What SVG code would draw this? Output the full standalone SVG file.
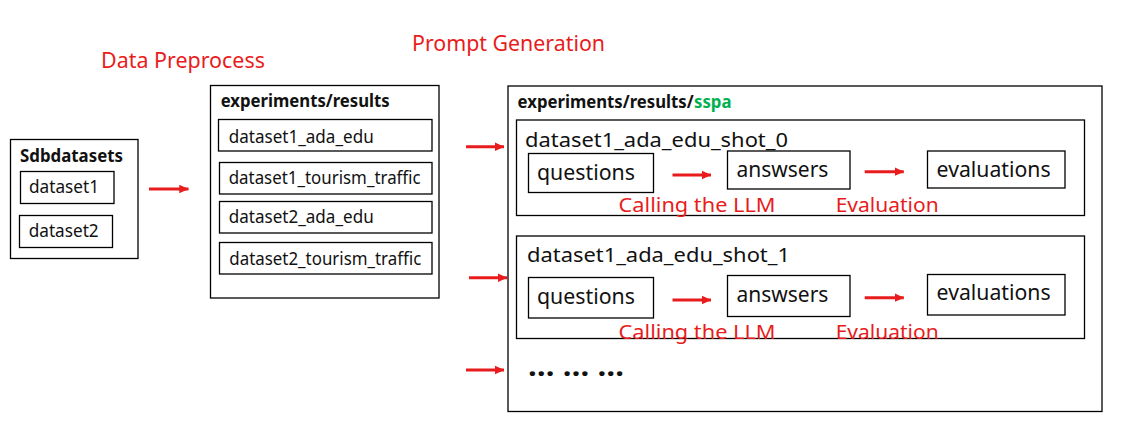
<svg xmlns="http://www.w3.org/2000/svg" width="1132" height="439" viewBox="0 0 1132 439">
<defs>
<marker id="ah" markerWidth="4" markerHeight="4" refX="3.2" refY="2" orient="auto" markerUnits="strokeWidth">
<path d="M0,0.5 L3.3,2 L0,3.5 Z" fill="#E81C1C"/>
</marker>
<style>
.box{fill:#fff;stroke:#000;stroke-width:1.3}
.t{font-family:"Noto Sans","Open Sans","Liberation Sans",sans-serif;fill:#111}
.b{font-weight:bold}
.red{fill:#E81C1C}
.arr{stroke:#E81C1C;stroke-width:2.9;fill:none;marker-end:url(#ah)}
</style>
</defs>
<rect width="1132" height="439" fill="#fff"/>

<text class="t red" x="101" y="68" font-size="21" textLength="164" lengthAdjust="spacingAndGlyphs">Data Preprocess</text>
<text class="t red" x="412" y="51" font-size="21" textLength="193" lengthAdjust="spacingAndGlyphs">Prompt Generation</text>

<g id="sdbdatasets">
<rect class="box" x="10.5" y="139.5" width="127.5" height="119"/>
<text class="t b" x="20" y="162" font-size="17" textLength="103" lengthAdjust="spacingAndGlyphs">Sdbdatasets</text>
<g id="dataset1">
<rect class="box" x="20.5" y="171.5" width="93.5" height="32"/>
<text class="t" x="29" y="193.3" font-size="18" textLength="70" lengthAdjust="spacingAndGlyphs">dataset1</text>
</g>
<g id="dataset2">
<rect class="box" x="19.5" y="215.5" width="93" height="32"/>
<text class="t" x="28.7" y="236.7" font-size="18" textLength="70" lengthAdjust="spacingAndGlyphs">dataset2</text>
</g>
</g>

<g id="results">
<rect class="box" x="210.5" y="85.5" width="228.5" height="212.5"/>
<text class="t b" x="220.7" y="106.7" font-size="17" textLength="169" lengthAdjust="spacingAndGlyphs">experiments/results</text>
<g id="r1">
<rect class="box" x="218.5" y="119.5" width="213.5" height="31.5"/>
<text class="t" x="228.7" y="142.7" font-size="18" textLength="145" lengthAdjust="spacingAndGlyphs">dataset1_ada_edu</text>
</g>
<g id="r2">
<rect class="box" x="219.5" y="162.5" width="212.5" height="31.5"/>
<text class="t" x="228.7" y="184.3" font-size="18" textLength="192" lengthAdjust="spacingAndGlyphs">dataset1_tourism_traffic</text>
</g>
<g id="r3">
<rect class="box" x="219.5" y="201.5" width="212.5" height="31.5"/>
<text class="t" x="228.7" y="223.3" font-size="18" textLength="145" lengthAdjust="spacingAndGlyphs">dataset2_ada_edu</text>
</g>
<g id="r4">
<rect class="box" x="219.5" y="242.5" width="212.5" height="31.5"/>
<text class="t" x="229.3" y="265" font-size="18" textLength="192" lengthAdjust="spacingAndGlyphs">dataset2_tourism_traffic</text>
</g>
</g>

<g id="sspa">
<rect class="box" x="508" y="86" width="594" height="325.5"/>
<text class="t b" x="517.6" y="108" font-size="17"><tspan textLength="176" lengthAdjust="spacingAndGlyphs">experiments/results/</tspan><tspan fill="#00B050" x="694" textLength="37.5" lengthAdjust="spacingAndGlyphs">sspa</tspan></text>

<g id="shot0">
<rect class="box" x="516.5" y="120" width="568" height="95.5"/>
<text class="t" x="525" y="146.7" font-size="20.5" textLength="263" lengthAdjust="spacingAndGlyphs">dataset1_ada_edu_shot_0</text>
<g id="q0">
<rect class="box" x="528.5" y="153.5" width="125" height="39"/>
<text class="t" x="537" y="180" font-size="21" textLength="98" lengthAdjust="spacingAndGlyphs">questions</text>
</g>
<g id="a0">
<rect class="box" x="727.5" y="151" width="122.5" height="38"/>
<text class="t" x="736.4" y="176.7" font-size="21" textLength="92" lengthAdjust="spacingAndGlyphs">answsers</text>
</g>
<g id="e0">
<rect class="box" x="927.5" y="151" width="137.5" height="37"/>
<text class="t" x="936.6" y="176.7" font-size="21" textLength="114" lengthAdjust="spacingAndGlyphs">evaluations</text>
</g>
<text class="t red" x="618.6" y="211.7" font-size="20.5" textLength="157" lengthAdjust="spacingAndGlyphs">Calling the LLM</text>
<text class="t red" x="835.7" y="211.7" font-size="20.5" textLength="103" lengthAdjust="spacingAndGlyphs">Evaluation</text>
</g>

<g id="shot1">
<rect class="box" x="516.5" y="236" width="568" height="102.5"/>
<text class="t" x="527" y="262" font-size="20.5" textLength="263" lengthAdjust="spacingAndGlyphs">dataset1_ada_edu_shot_1</text>
<g id="q1">
<rect class="box" x="528.5" y="277.5" width="125" height="40.5"/>
<text class="t" x="537" y="304" font-size="21" textLength="98" lengthAdjust="spacingAndGlyphs">questions</text>
</g>
<g id="a1">
<rect class="box" x="727.5" y="275.5" width="122.5" height="41"/>
<text class="t" x="736.4" y="301.7" font-size="21" textLength="92" lengthAdjust="spacingAndGlyphs">answsers</text>
</g>
<g id="e1">
<rect class="box" x="927.5" y="274.5" width="137.5" height="40.5"/>
<text class="t" x="936.6" y="300" font-size="21" textLength="114" lengthAdjust="spacingAndGlyphs">evaluations</text>
</g>
<text class="t red" x="618.6" y="339.3" font-size="20.5" textLength="157" lengthAdjust="spacingAndGlyphs">Calling the LLM</text>
<text class="t red" x="835.7" y="339.3" font-size="20.5" textLength="103" lengthAdjust="spacingAndGlyphs">Evaluation</text>
</g>

<text class="t b" x="528" y="376" font-size="28" font-family="Liberation Sans, sans-serif" textLength="96" lengthAdjust="spacingAndGlyphs">… … …</text>
</g>

<g id="connectors">
<line class="arr" x1="149" y1="189" x2="188.5" y2="189"/>
<line class="arr" x1="466" y1="146.7" x2="504" y2="146.7"/>
<line class="arr" x1="469" y1="277.7" x2="507" y2="277.7"/>
<line class="arr" x1="466" y1="370" x2="504" y2="370"/>
<line class="arr" x1="672.5" y1="175" x2="711" y2="175"/>
<line class="arr" x1="864.7" y1="171.7" x2="903.8" y2="171.7"/>
<line class="arr" x1="672.5" y1="300" x2="711" y2="300"/>
<line class="arr" x1="864.7" y1="297.7" x2="903.8" y2="297.7"/>
</g>
</svg>
